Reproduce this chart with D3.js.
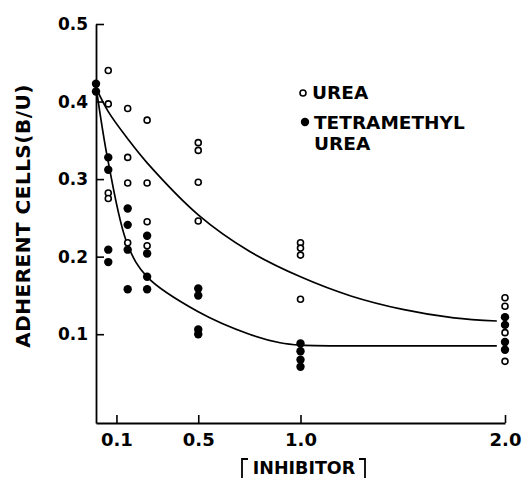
<!DOCTYPE html>
<html>
<head>
<meta charset="utf-8">
<script src="https://cdn.jsdelivr.net/npm/d3@7"></script>
<style>
	body { margin: 0; background: white; }
	svg { display: block; }
	text { font-family: "DejaVu Sans", sans-serif; font-weight: bold; fill: black; }
</style>
</head>
<body>
<div class="chart"></div>
<script>
// tick values
const xTicks = [0.1, 0.5, 1.0, 2.0]
const yTicks = [0.1, 0.2, 0.3, 0.4, 0.5]

// urea (open circles) : [concentration, B/U]
const ureaPoints = [
	[0.06, 0.44], [0.06, 0.397], [0.06, 0.282], [0.06, 0.275],
	[0.155, 0.391], [0.155, 0.328], [0.155, 0.295], [0.155, 0.218],
	[0.25, 0.376], [0.25, 0.295], [0.25, 0.245], [0.25, 0.214],
	[0.5, 0.347], [0.5, 0.337], [0.5, 0.296], [0.5, 0.246],
	[1.0, 0.218], [1.0, 0.211], [1.0, 0.202], [1.0, 0.145],
	[2.0, 0.147], [2.0, 0.136], [2.0, 0.102], [2.0, 0.065]
]

// tetramethyl urea (filled circles)
const tmuPoints = [
	[0, 0.423], [0, 0.413],
	[0.06, 0.328], [0.06, 0.312], [0.06, 0.209], [0.06, 0.193],
	[0.155, 0.262], [0.155, 0.241], [0.155, 0.209], [0.155, 0.158],
	[0.25, 0.227], [0.25, 0.204], [0.25, 0.174], [0.25, 0.158],
	[0.5, 0.159], [0.5, 0.150], [0.5, 0.106], [0.5, 0.100],
	[1.0, 0.088], [1.0, 0.078], [1.0, 0.067], [1.0, 0.058],
	[2.0, 0.122], [2.0, 0.112], [2.0, 0.090], [2.0, 0.080]
]

// fitted curves
const ureaFit = [
	[0.005, 0.415], [0.06, 0.387], [0.155, 0.352], [0.25, 0.321], [0.5, 0.254],
	[0.75, 0.207], [1.0, 0.174], [1.25, 0.149], [1.5, 0.132], [1.75, 0.121], [1.96, 0.117]
]
const tmuFit = [
	[0.0, 0.42], [0.06, 0.322], [0.155, 0.215], [0.25, 0.174], [0.5, 0.129],
	[0.75, 0.1], [0.9, 0.089], [1.0, 0.086], [1.5, 0.085], [1.96, 0.085]
]

function plot_chart() {
	let width = 525
	let height = 478

	var svg = d3.select(".chart")
		.append("svg")
		.attr("width", width)
		.attr("height", height)

	let x = d3.scaleLinear().domain([0, 2.0]).range([96, 505])
	let y = d3.scaleLinear().domain([-0.0145, 0.5]).range([423, 24])

	// y axis, ticks pointing inward
	let yAxis = svg.append("g")
		.attr("transform", `translate(${x(0)},0)`)
		.call(d3.axisLeft(y).tickValues(yTicks).tickSizeInner(-8).tickSizeOuter(0).tickPadding(8).tickFormat(d3.format(".1f")))
	yAxis.select(".domain").attr("stroke-width", 1.8)
	yAxis.selectAll(".tick line").attr("stroke-width", 1.6)
	yAxis.selectAll(".tick text")
		.style("font-size", "17px")
		.attr("x", -8)
		.attr("fill", "black")

	// x axis, ticks pointing up
	let xAxis = svg.append("g")
		.attr("transform", `translate(0,${y.range()[0]})`)
		.call(d3.axisBottom(x).tickValues(xTicks).tickSizeInner(-8).tickSizeOuter(0).tickPadding(14).tickFormat(d3.format(".1f")))
	xAxis.select(".domain").attr("stroke-width", 1.8)
	xAxis.selectAll(".tick line").attr("stroke-width", 1.6)
	xAxis.selectAll(".tick text")
		.style("font-size", "18px")
		.attr("y", 10)
		.attr("fill", "black")

	// axis titles
	svg.append("text")
		.attr("transform", "translate(30,216) rotate(-90)")
		.attr("text-anchor", "middle")
		.style("font-size", "20px")
		.style("letter-spacing", "0.5px")
		.text("ADHERENT CELLS(B/U)")

	svg.append("text")
		.attr("x", 304)
		.attr("y", 474)
		.attr("text-anchor", "middle")
		.style("font-size", "17.5px")
		.text("INHIBITOR")
	// brackets around the title
	svg.append("path")
		.attr("d", "M248,459 h-6 v22 M359,459 h6 v22")
		.attr("fill", "none")
		.attr("stroke", "black")
		.attr("stroke-width", 1.8)

	// fitted curves
	let line = d3.line()
		.x(d => x(d[0]))
		.y(d => y(d[1]))
		.curve(d3.curveCatmullRom.alpha(0.5))

	svg.selectAll("path.fit")
		.data([ureaFit, tmuFit])
		.join("path")
		.attr("class", "fit")
		.attr("d", line)
		.attr("fill", "none")
		.attr("stroke", "black")
		.attr("stroke-width", 1.7)

	// points
	svg.selectAll("circle.urea")
		.data(ureaPoints)
		.join("circle")
		.attr("class", "urea")
		.attr("cx", d => x(d[0]))
		.attr("cy", d => y(d[1]))
		.attr("r", 3)
		.attr("fill", "white")
		.attr("stroke", "black")
		.attr("stroke-width", 1.6)

	svg.selectAll("circle.tmu")
		.data(tmuPoints)
		.join("circle")
		.attr("class", "tmu")
		.attr("cx", d => x(d[0]))
		.attr("cy", d => y(d[1]))
		.attr("r", 4.2)
		.attr("fill", "black")

	// legend
	svg.append("circle")
		.attr("cx", 303).attr("cy", 93).attr("r", 3)
		.attr("fill", "white").attr("stroke", "black").attr("stroke-width", 1.6)
	svg.append("text")
		.attr("x", 312).attr("y", 99)
		.style("font-size", "18.5px")
		.text("UREA")
	svg.append("circle")
		.attr("cx", 305).attr("cy", 122).attr("r", 4.2)
		.attr("fill", "black")
	svg.append("text")
		.attr("x", 314).attr("y", 129)
		.style("font-size", "18.5px")
		.text("TETRAMETHYL")
	svg.append("text")
		.attr("x", 314).attr("y", 150)
		.style("font-size", "18.5px")
		.text("UREA")
}

plot_chart()
</script>
</body>
</html>
